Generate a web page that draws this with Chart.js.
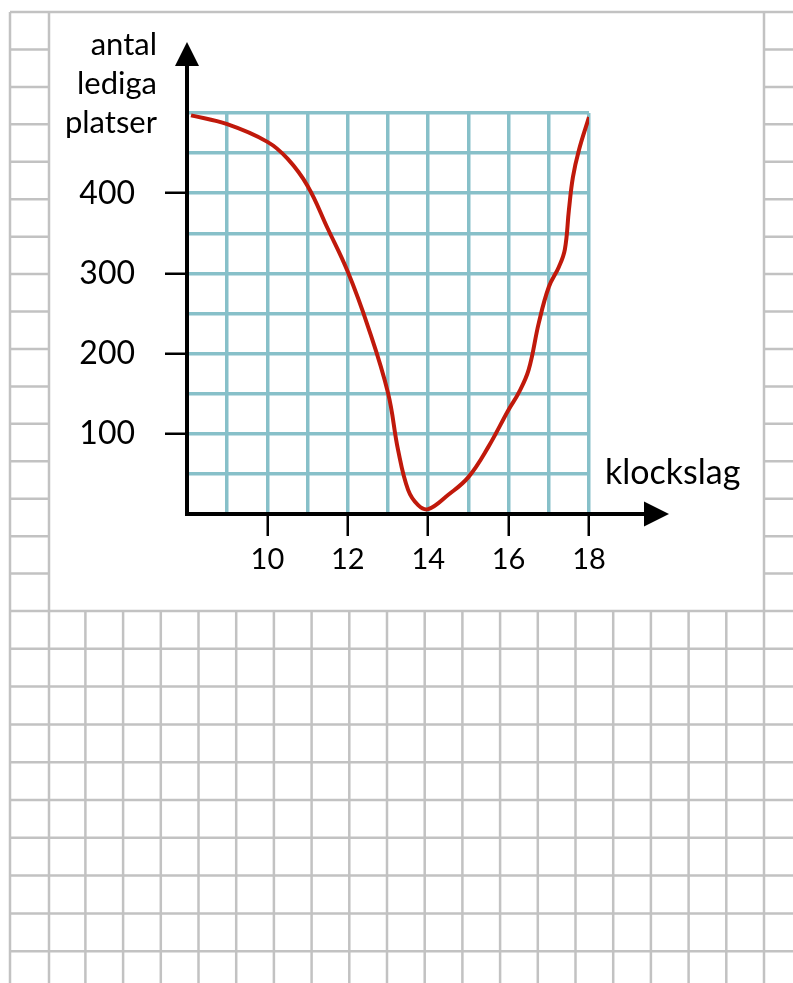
<!DOCTYPE html>
<html>
<head>
<meta charset="utf-8">
<script src="https://cdn.jsdelivr.net/npm/chart.js@4.4.1/dist/chart.umd.min.js"></script>
<style>
html, body { margin: 0; padding: 0; background: #fff; }
#wrap { width: 793px; height: 983px; }
</style>
</head>
<body>
<div id="wrap"><canvas id="seatChart" width="793" height="983"></canvas></div>
<script>
// CHART DATA //
var hours = [8.1, 9, 10, 10.5, 11, 11.5, 12, 12.5, 13, 13.25, 13.5, 13.75, 14, 14.5, 15, 15.5, 16, 16.25, 16.5, 16.75, 17, 17.25, 17.4, 17.5, 17.6, 17.75, 18];
var seats = [497, 486, 464, 443, 409, 356, 302, 234, 151, 80, 30, 11, 6, 24, 46, 84, 130, 151, 180, 238, 283, 308, 330, 379, 420, 454, 495];
var xTickLabels = [10, 12, 14, 16, 18];
var yTickLabels = [100, 200, 300, 400];
var yAxisTitle = ["antal", "lediga", "platser"];
var xAxisTitle = "klockslag";

var points = [];
for (var i = 0; i < hours.length; i++) {
    points.push({x: hours[i], y: seats[i]});
}

var teal = "#87c0c9";
var red = "#c0190b";

// GRAPH PAPER BEHIND THE CHART //
var paperPlugin = {
    id: "paper",
    beforeDraw: function(chart) {
        var ctx = chart.ctx;
        ctx.save();
        ctx.fillStyle = "#fff";
        ctx.fillRect(0, 0, 793, 983);
        ctx.strokeStyle = "#c2c2c2";
        ctx.lineWidth = 2.5;
        ctx.beginPath();
        // top border
        ctx.moveTo(10, 12); ctx.lineTo(793, 12);
        // side strips
        for (var k = 1; k <= 16; k++) {
            var y = 12 + k * 37.44;
            ctx.moveTo(10, y); ctx.lineTo(49, y);
            ctx.moveTo(764, y); ctx.lineTo(793, y);
        }
        ctx.moveTo(10, 12); ctx.lineTo(10, 983);
        ctx.moveTo(49, 12); ctx.lineTo(49, 983);
        ctx.moveTo(764, 12); ctx.lineTo(764, 983);
        // bottom part
        for (var j = 0; 611 + j * 37.8 < 983; j++) {
            var yy = 611 + j * 37.8;
            ctx.moveTo(10, yy); ctx.lineTo(793, yy);
        }
        for (var m = 2; m < 20; m++) {
            var x = 10 + m * 37.7;
            ctx.moveTo(x, 611); ctx.lineTo(x, 983);
        }
        ctx.stroke();
        ctx.restore();
    }
};

// AXES, ARROWS AND AXIS TEXTS //
var axesPlugin = {
    id: "axesArrows",
    afterDatasetsDraw: function(chart) {
        var ctx = chart.ctx;
        var area = chart.chartArea;
        var x0 = area.left, y0 = area.bottom;
        ctx.save();
        ctx.strokeStyle = "#000";
        ctx.fillStyle = "#000";
        ctx.lineWidth = 4;
        ctx.beginPath();
        ctx.moveTo(x0, y0 + 2); ctx.lineTo(x0, 60);
        ctx.moveTo(x0 - 2, y0); ctx.lineTo(650, y0);
        ctx.stroke();
        // arrow heads
        ctx.beginPath();
        ctx.moveTo(x0, 42); ctx.lineTo(x0 + 12, 66); ctx.lineTo(x0 - 12, 66); ctx.closePath();
        ctx.fill();
        ctx.beginPath();
        ctx.moveTo(669, y0); ctx.lineTo(644, y0 - 12.5); ctx.lineTo(644, y0 + 12.5); ctx.closePath();
        ctx.fill();
        // texts
        ctx.fillStyle = "#000";
        ctx.textBaseline = "alphabetic";
        ctx.font = "31px Lato";
        ctx.textAlign = "right";
        for (var i = 0; i < yAxisTitle.length; i++) {
            ctx.fillText(yAxisTitle[i], 157, 55 + i * 39);
        }
        ctx.font = "34px Lato";
        ctx.textAlign = "left";
        ctx.fillText(xAxisTitle, 605, 484);
        ctx.restore();
    }
};

// CREATE CHART //
var seatContainer = document.getElementById("seatChart");
var seatChart = new Chart(seatContainer, {
    type: "line",
    data: {
        datasets: [{
            data: points,
            borderColor: red,
            borderWidth: 4,
            pointRadius: 0,
            fill: false,
            tension: 0.4
        }]
    },
    options: {
        responsive: false,
        animation: false,
        devicePixelRatio: 1,
        layout: {
            padding: {left: 0, top: 113, right: 204, bottom: 369}
        },
        plugins: {
            legend: {display: false},
            tooltip: {enabled: false}
        },
        scales: {
            x: {
                type: "linear",
                min: 8,
                max: 18,
                afterFit: function(s) { s.height = 100; },
                border: {display: false},
                grid: {
                    color: teal,
                    lineWidth: 3.5,
                    tickLength: 22,
                    tickWidth: 2.5,
                    tickColor: function(c) {
                        return xTickLabels.indexOf(c.tick.value) >= 0 ? "#000" : "rgba(0,0,0,0)";
                    }
                },
                ticks: {
                    stepSize: 1,
                    autoSkip: false,
                    maxRotation: 0,
                    padding: 6,
                    color: "#000",
                    font: {family: "Lato", size: 29},
                    callback: function(v) {
                        return xTickLabels.indexOf(v) >= 0 ? String(v) : "";
                    }
                }
            },
            y: {
                type: "linear",
                min: 0,
                max: 500,
                afterFit: function(s) { s.width = 187; },
                border: {display: false},
                grid: {
                    color: teal,
                    lineWidth: 3.5,
                    tickLength: 22,
                    tickWidth: 2.5,
                    tickColor: function(c) {
                        return yTickLabels.indexOf(c.tick.value) >= 0 ? "#000" : "rgba(0,0,0,0)";
                    }
                },
                ticks: {
                    stepSize: 50,
                    autoSkip: false,
                    padding: 30,
                    color: "#000",
                    font: {family: "Lato", size: 32},
                    callback: function(v) {
                        return yTickLabels.indexOf(v) >= 0 ? String(v) : "";
                    }
                }
            }
        }
    },
    plugins: [paperPlugin, axesPlugin]
});
</script>
</body>
</html>
